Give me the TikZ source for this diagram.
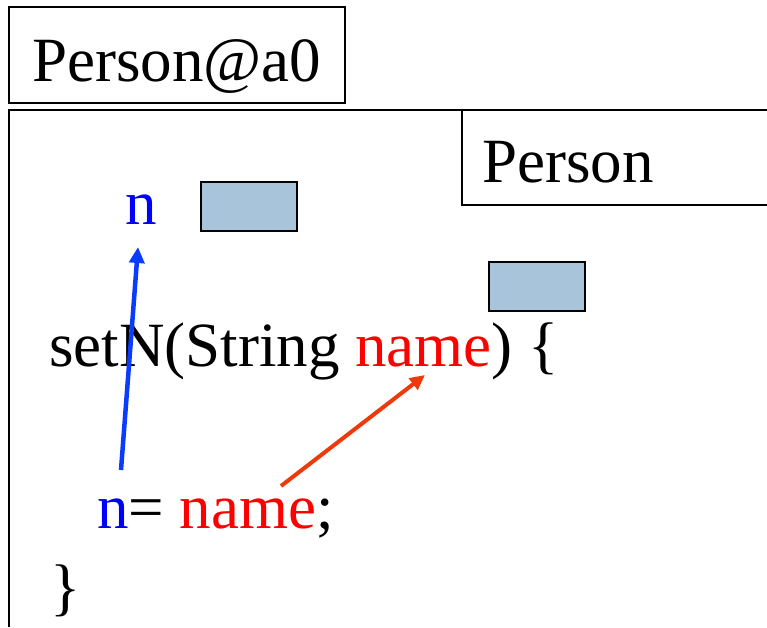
\documentclass[tikz,border=0pt]{standalone}
\usepackage{fontspec}
\setmainfont{Liberation Serif}
\usetikzlibrary{arrows.meta}
\definecolor{slot}{HTML}{A7C4DB}
\definecolor{arrblue}{HTML}{0A3CFF}
\definecolor{arrred}{HTML}{EE3A0A}
\begin{document}
\begin{tikzpicture}[x=1pt,y=-1pt,
  frame/.style={draw=black,line width=2.2pt},
  slotbox/.style={draw=black,line width=2.2pt,fill=slot},
  code/.style={inner sep=0pt,anchor=base west,font=\fontsize{63}{70}\selectfont},
  blueptr/.style={draw=arrblue,line width=4.5pt,-{Triangle[length=16pt,width=15pt]}},
  redptr/.style={draw=arrred,line width=4pt,-{Triangle[length=15pt,width=14pt]}}]
\useasboundingbox (0,0) rectangle (767,627);
% outer object label box
\draw[frame] (9,7) rectangle (345,103);
\node[code] (obj) at (32,81) {Person@a0};
% object frame (open bottom/right)
\draw[frame] (9,627) -- (9,110) -- (767,110);
% class box
\draw[frame] (462,110) -- (462,205) -- (767,205);
\node[code] (cls) at (482,182) {Person};
% field n
\node[code,text=blue] (ntop) at (125,224) {n};
\draw[slotbox] (201,182) rectangle (297,231);
% parameter slot
\draw[slotbox] (489,262) rectangle (585,311);
% method header
\node[code] (hdr) at (49,366) {setN(String \textcolor{red}{name}) \{};
% body
\node[code] (body) at (97,528) {\textcolor{blue}{n}= \textcolor{red}{name};};
\node[code] (close) at (50,608) {\}};
% arrows
\coordinate (bs) at (121,470);
\coordinate (be) at (138,247);
\coordinate (rs) at (281,486);
\coordinate (re) at (425,375);
\draw[blueptr] (bs) -- (be);
\draw[redptr] (rs) -- (re);
\end{tikzpicture}
\end{document}
